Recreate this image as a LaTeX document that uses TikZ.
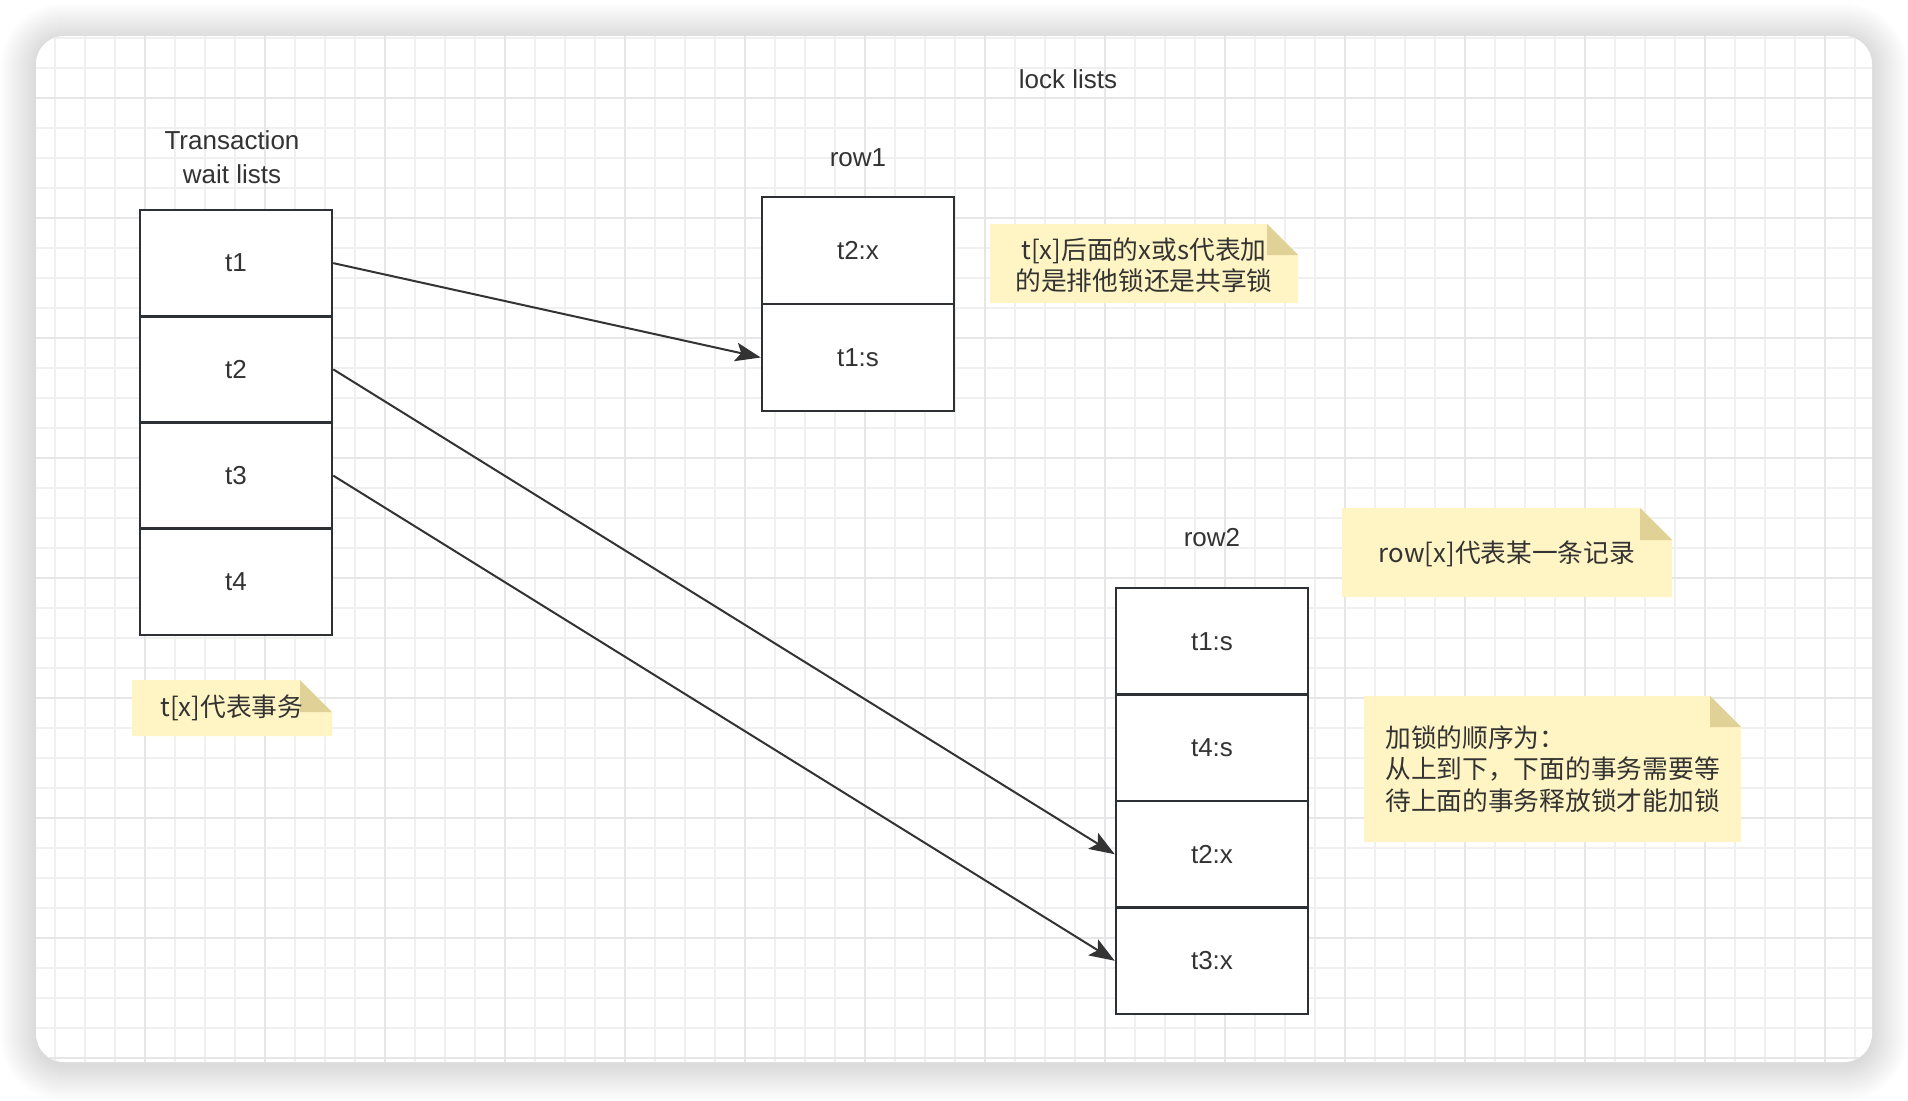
\documentclass[tikz,border=0pt]{standalone}
\usepackage{fontspec}
\setmainfont{Liberation Sans}
\newfontfamily\cjk{Noto Sans CJK SC}
\usetikzlibrary{arrows.meta}
\definecolor{txt}{HTML}{333333}
\definecolor{bord}{HTML}{2D3136}
\definecolor{arrc}{HTML}{333333}
\definecolor{gridminor}{HTML}{F0F0F0}
\definecolor{gridmajor}{HTML}{E6E6E6}
\definecolor{notefill}{HTML}{FFF4C3}
\definecolor{notefold}{HTML}{E0D196}
\newcommand{\mylat}{\fontsize{19.5}{25.5}\selectfont}
\newcommand{\mycjk}{\cjk\fontsize{19.3}{23.5}\selectfont}
\newcommand{\mynote}[5]{%
  \fill[notefill] (#1,#2) -- ({#3-#5},#2) -- (#3,{#2+#5}) -- (#3,#4) -- (#1,#4) -- cycle;
  \fill[notefold] ({#3-#5},#2) -- ({#3-#5},{#2+#5}) -- (#3,{#2+#5}) -- cycle;}
\begin{document}
\begin{tikzpicture}[x=0.75pt,y=-0.75pt,
  cell/.style={draw=bord,line width=1.9pt,fill=white,minimum width=144pt,inner sep=0pt,text=txt,font=\mylat},
  lcell/.style={cell,minimum height=79.69pt},
  r1cell/.style={cell,minimum height=80.25pt},
  r2cell/.style={cell,minimum height=79.875pt},
  lbl/.style={text=txt,font=\mylat,inner sep=0pt},
  notetext/.style={text=txt,font=\mycjk,inner sep=0pt},
  arr/.style={draw=arrc,line width=1.5pt,-{Stealth[length=19pt,width=14pt,inset=4pt]}}
]
\useasboundingbox (0,0) rectangle (1908,1100);
% shadow
\foreach \i in {1,...,36}{
  \pgfmathsetmacro{\rr}{(28+\i)*0.75}
  \fill[black,opacity=0.005,rounded corners=\rr pt] ({36-\i},{36-\i+3}) rectangle ({1872+\i},{1062+\i+3});
}
% card
\fill[white,rounded corners=21pt] (36,36) rectangle (1872,1062);
\begin{scope}
\clip[rounded corners=21pt] (36,36) rectangle (1872,1062);
\foreach \x in {55,85,...,1855} \draw[gridminor,line width=1.1pt] (\x,36) -- (\x,1062);
\foreach \y in {38,68,...,1058} \draw[gridminor,line width=1.1pt] (36,\y) -- (1872,\y);
\foreach \x in {145,265,...,1825} \draw[gridmajor,line width=1.1pt] (\x,36) -- (\x,1062);
\foreach \y in {98,218,...,1058} \draw[gridmajor,line width=1.1pt] (36,\y) -- (1872,\y);
\end{scope}

% labels
\node[lbl,align=center] (twl) at (232,157) {Transaction\\wait lists};
\node[lbl] (ll) at (1068,79) {lock lists};
\node[lbl] (row1l) at (858,158) {row1};
\node[lbl] (row2l) at (1212,538) {row2};

% transaction list
\node[lcell] (t1) at (236,263.125) {t1};
\node[lcell] (t2) at (236,369.375) {t2};
\node[lcell] (t3) at (236,475.625) {t3};
\node[lcell] (t4) at (236,581.875) {t4};

% row1
\node[r1cell] (r1a) at (858,250.5) {t2:x};
\node[r1cell] (r1b) at (858,357.5) {t1:s};

% row2
\node[r2cell] (r2a) at (1212,641.25) {t1:s};
\node[r2cell] (r2b) at (1212,747.75) {t4:s};
\node[r2cell] (r2c) at (1212,854.25) {t2:x};
\node[r2cell] (r2d) at (1212,960.75) {t3:x};

% notes
\mynote{990}{224}{1298}{303}{31}
\node[notetext,align=center] (n1) at (1144,265.5) {t[x]后面的x或s代表加\\的是排他锁还是共享锁};
\mynote{1342}{508}{1672}{597}{32}
\node[notetext] (n2) at (1507,554) {row[x]代表某一条记录};
\mynote{1364}{696}{1741}{842}{31}
\node[notetext,align=left,anchor=west] (n3) at (1385,769) {加锁的顺序为：\\从上到下，下面的事务需要等\\待上面的事务释放锁才能加锁};
\mynote{132}{680}{332}{736}{32}
\node[notetext] (n4) at (232,708) {t[x]代表事务};

% arrows
\draw[arr] (t1.east) -- (r1b.west);
\draw[arr] (t2.east) -- (r2c.west);
\draw[arr] (t3.east) -- (r2d.west);
\end{tikzpicture}
\end{document}
